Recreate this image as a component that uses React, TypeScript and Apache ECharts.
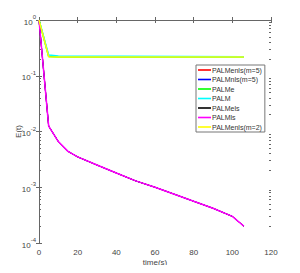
import React, { useEffect, useRef } from "react";
import * as echarts from "echarts";

const seriesNames = [
  "PALMenls(m=5)",
  "PALMnls(m=5)",
  "PALMe",
  "PALM",
  "PALMels",
  "PALMls",
  "PALMenls(m=2)",
];
const seriesColors = ["#ff0000", "#0000ff", "#00ff00", "#00ffff", "#000000", "#ff00ff", "#ffff00"];
const seriesWidths = [1, 1, 1.5, 1.5, 1, 1.5, 1.5];

const timeFast = [0, 5, 10, 15, 20, 30, 40, 50, 60, 70, 80, 90, 100, 106];
const errFast = [1, 0.0125, 0.0066, 0.0044, 0.0035, 0.0025, 0.0018, 0.0013, 0.001, 0.00075, 0.00056, 0.00042, 0.0003, 0.0002];

const timeSlow = [0, 5, 10, 106];
const errGreen = [1, 0.222, 0.218, 0.218];
const errCyan = [1, 0.235, 0.226, 0.22];
const errYellow = [1, 0.22, 0.216, 0.216];

const minorLog: number[] = [];
for (let d = -4; d < 0; d++) {
  for (let k = 2; k <= 9; k++) minorLog.push(d + Math.log10(k));
}

const pairs = (xs: number[], ys: number[]) => xs.map((x, i) => [x, ys[i]]);

const seriesData = [
  pairs(timeFast, errFast),
  pairs(timeFast, errFast),
  pairs(timeSlow, errGreen),
  pairs(timeSlow, errCyan),
  pairs(timeFast, errFast),
  pairs(timeFast, errFast),
  pairs(timeSlow, errYellow),
];

export default function App() {
  const ref = useRef<HTMLDivElement>(null);
  useEffect(() => {
    const chart = echarts.init(ref.current!, null, { renderer: "svg" });
    const font = "Liberation Sans, Arial, sans-serif";
    const axisColor = "#666";
    const labelColor = "#444";
    chart.setOption({
      animation: false,
      textStyle: { fontFamily: font },
      grid: { left: 39, right: 29, top: 20, bottom: 30, outerBoundsMode: "none", containLabel: false },
      legend: {
        left: 196,
        top: 65,
        orient: "vertical",
        data: seriesNames,
        icon: "rect",
        itemWidth: 13,
        itemHeight: 1.6,
        itemGap: 1.5,
        padding: [1, 3, 1, 2],
        borderColor: "#777",
        borderWidth: 1,
        backgroundColor: "#fff",
        textStyle: { fontSize: 7, lineHeight: 8, color: "#333", fontFamily: font, padding: [0, 0, 0, -4] },
      },
      xAxis: [
        {
          type: "value",
          min: 0,
          max: 120,
          interval: 20,
          position: "bottom",
          name: "time(s)",
          nameLocation: "middle",
          nameGap: 15,
          nameMoveOverlap: false,
          nameTextStyle: { fontSize: 8, color: labelColor, fontFamily: font },
          axisLine: { lineStyle: { color: axisColor } },
          axisTick: { inside: true, length: 3, lineStyle: { color: axisColor } },
          axisLabel: { fontSize: 8, color: labelColor, margin: 5, fontFamily: font },
          splitLine: { show: false },
        },
        {
          type: "value",
          min: 0,
          max: 120,
          interval: 20,
          position: "top",
          axisLine: { lineStyle: { color: axisColor } },
          axisTick: { inside: true, length: 3, lineStyle: { color: axisColor } },
          axisLabel: { show: false },
          splitLine: { show: false },
        },
      ],
      yAxis: [
        {
          type: "log",
          logBase: 10,
          min: 0.0001,
          max: 1,
          position: "left",
          name: "E(t)",
          nameLocation: "middle",
          nameGap: 17,
          nameMoveOverlap: false,
          nameTextStyle: { fontSize: 8, color: labelColor, fontFamily: font },
          axisLine: { show: true, lineStyle: { color: axisColor } },
          axisTick: { show: true, inside: true, length: 3, lineStyle: { color: axisColor } },
          axisLabel: {
            margin: 3,
            fontFamily: font,
            formatter: (v: number) => `{b|10}{s|${Math.round(Math.log10(v))}}`,
            rich: {
              b: { fontSize: 8, color: labelColor, verticalAlign: "bottom", lineHeight: 12, fontFamily: font },
              s: { fontSize: 6, color: labelColor, verticalAlign: "top", lineHeight: 12, fontFamily: font },
            },
          },
          splitLine: { show: false },
        },
        {
          type: "log",
          logBase: 10,
          min: 0.0001,
          max: 1,
          position: "right",
          axisLine: { show: true, lineStyle: { color: axisColor } },
          axisTick: { show: true, inside: true, length: 3, lineStyle: { color: axisColor } },
          axisLabel: { show: false },
          splitLine: { show: false },
        },
        {
          type: "value",
          min: -4,
          max: 0,
          position: "left",
          axisLine: { show: false },
          axisTick: { show: true, inside: true, length: 2, customValues: minorLog, lineStyle: { color: axisColor } },
          axisLabel: { show: false },
          splitLine: { show: false },
        },
        {
          type: "value",
          min: -4,
          max: 0,
          position: "right",
          axisLine: { show: false },
          axisTick: { show: true, inside: true, length: 2, customValues: minorLog, lineStyle: { color: axisColor } },
          axisLabel: { show: false },
          splitLine: { show: false },
        },
      ],
      series: seriesNames.map((name, i) => ({
        name,
        type: "line",
        xAxisIndex: 0,
        yAxisIndex: 0,
        data: seriesData[i],
        symbol: "none",
        lineStyle: { color: seriesColors[i], width: seriesWidths[i] },
        itemStyle: { color: seriesColors[i] },
        z: 2 + i,
      })),
    });
    return () => chart.dispose();
  }, []);
  return <div ref={ref} style={{ width: 300, height: 273, margin: -8 }} />;
}
